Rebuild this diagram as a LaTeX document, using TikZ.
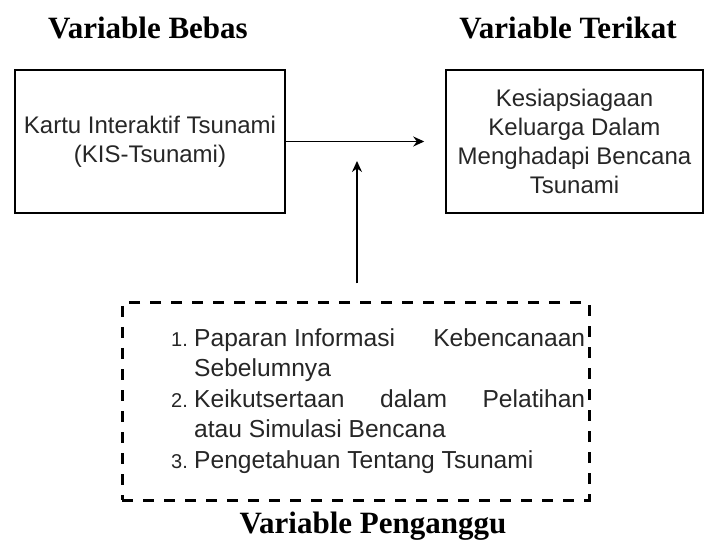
\documentclass[tikz,border=0pt]{standalone}
\usepackage{fontspec}
\setmainfont{Liberation Serif}
\newfontfamily\boxfont{Liberation Sans}
\usetikzlibrary{arrows.meta,positioning}
\newcommand{\lstnum}{\fontsize{20}{24}\selectfont}

\begin{document}
\begin{tikzpicture}[x=1pt,y=-1pt,
	title/.style={font=\fontsize{31}{36}\selectfont\bfseries,inner sep=0pt,anchor=base},
	varbox/.style={rectangle,draw,line width=1.5pt,inner sep=0pt,align=center,text=black!85,font=\boxfont\fontsize{24}{29}\selectfont},
	dashbox/.style={rectangle,draw,line width=3pt,dash pattern=on 11pt off 10pt,inner sep=0pt,minimum width=467pt,minimum height=197pt},
	listtext/.style={align=left,inner sep=0pt,text=black!85,font=\boxfont\fontsize{24.6}{30.5}\selectfont},
	arr/.style={-{Stealth[length=11pt,width=10pt]},line width=1.5pt}
]
\useasboundingbox (0,0) rectangle (705,540);

\node[title] (bebas) at (148,39) {Variable Bebas};
\node[title] (terikat) at (568,39) {Variable Terikat};
\node[title] (penganggu) at (373,533) {Variable Penganggu};

\node[varbox,minimum width=270pt,minimum height=143pt] (kartu) at (150,141.5) {Kartu Interaktif Tsunami\\(KIS-Tsunami)};
\node[varbox,minimum width=257pt,minimum height=143pt] (siaga) at (574.5,141.5) {Kesiapsiagaan\\Keluarga Dalam\\Menghadapi Bencana\\Tsunami};

\node[dashbox] (ganggu) at (355.5,401.5) {};
\node[listtext,anchor=west] (daftar) at (171,401) {%
  \makebox[23pt][l]{\lstnum 1.}\makebox[391pt][l]{Paparan Informasi\hfill Kebencanaan}\\
  \hspace*{23pt}Sebelumnya\\
  \makebox[23pt][l]{\lstnum 2.}\makebox[391pt][l]{Keikutsertaan\hfill dalam\hfill Pelatihan}\\
  \hspace*{23pt}atau Simulasi Bencana\\
  \makebox[23pt][l]{\lstnum 3.}Pengetahuan Tentang Tsunami};

\coordinate (tipV) at (357,161);
\draw[arr] (kartu.east) -- ([xshift=-21pt]siaga.west);
\draw[arr] (ganggu.north -| tipV) ++(0,-18) -- (tipV);
\end{tikzpicture}
\end{document}
